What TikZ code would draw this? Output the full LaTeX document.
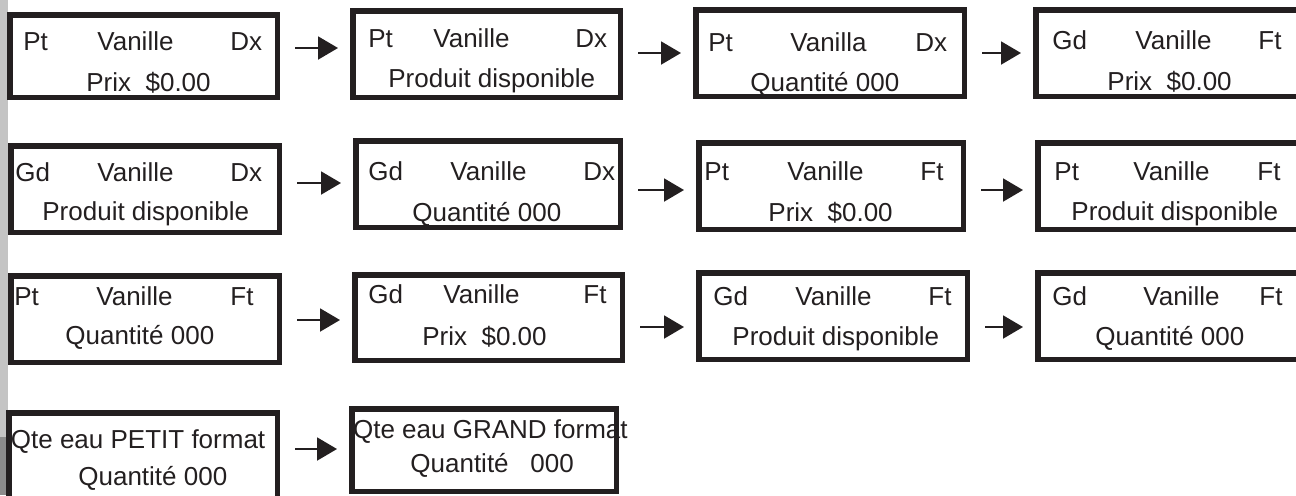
\documentclass[tikz,border=0pt]{standalone}
\usepackage{fontspec}
\setmainfont{Liberation Sans}
\usetikzlibrary{arrows.meta}

\definecolor{ink}{RGB}{35,31,32}
\definecolor{edgelight}{RGB}{196,196,196}
\definecolor{edgedark}{RGB}{140,140,140}

\begin{document}
\begin{tikzpicture}[x=0.5pt,y=-0.5pt,
  screen/.style={draw=ink,line width=2.75pt,rectangle,inner sep=0pt},
  lbl/.style={anchor=base west,inner sep=0pt,text=ink,font=\fontsize{13pt}{15pt}\selectfont},
  flow/.style={-{Triangle[length=10pt,width=11.5pt]},draw=ink,line width=1pt,shorten <=7.5pt,shorten >=6pt}]
\useasboundingbox (0,0) rectangle (1296,495);
\clip (0,0) rectangle (1296,495);
\fill[edgelight] (0,0) rectangle (8,437);
\fill[edgedark] (0,437) rectangle (6,495);

% display screens, row by row
\node[screen,minimum width=133.75pt,minimum height=41.25pt] (s1) at (143.5,56) {};
\node[screen,minimum width=133.75pt,minimum height=43.25pt] (s2) at (486.5,54) {};
\node[screen,minimum width=134.25pt,minimum height=43.25pt] (s3) at (830,53) {};
\node[screen,minimum width=140.75pt,minimum height=43.25pt] (s4) at (1176.5,53) {};
\node[screen,minimum width=134.25pt,minimum height=43.25pt] (s5) at (145,189) {};
\node[screen,minimum width=132.25pt,minimum height=43.25pt] (s6) at (488,184) {};
\node[screen,minimum width=132.25pt,minimum height=43.25pt] (s7) at (831,186) {};
\node[screen,minimum width=139.75pt,minimum height=43.25pt] (s8) at (1177.5,186) {};
\node[screen,minimum width=134.25pt,minimum height=43.25pt] (s9) at (145,319) {};
\node[screen,minimum width=133.75pt,minimum height=42.75pt] (s10) at (488.5,317.5) {};
\node[screen,minimum width=134.25pt,minimum height=43.25pt] (s11) at (833,316) {};
\node[screen,minimum width=139.75pt,minimum height=43.25pt] (s12) at (1177.5,316) {};
\node[screen,minimum width=134.25pt,minimum height=52.25pt] (s13) at (143,465) {};
\node[screen,minimum width=132.25pt,minimum height=41.25pt] (s14) at (484,450) {};

% screen texts
\node[lbl] (s1l) at (23,50) {Pt};
\node[lbl] (s1m) at (97,50) {Vanille};
\node[lbl] (s1r) at (230,50) {Dx};
\node[lbl] (s1b) at (86,91) {Prix~~\$0.00};

\node[lbl] (s2l) at (368,47) {Pt};
\node[lbl] (s2m) at (433,47) {Vanille};
\node[lbl] (s2r) at (575,47) {Dx};
\node[lbl] (s2b) at (388,87) {Produit disponible};

\node[lbl] (s3l) at (708,51) {Pt};
\node[lbl] (s3m) at (790,51) {Vanilla};
\node[lbl] (s3r) at (915,51) {Dx};
\node[lbl] (s3b) at (750,91) {Quantité 000};

\node[lbl] (s4l) at (1052,49) {Gd};
\node[lbl] (s4m) at (1135,49) {Vanille};
\node[lbl] (s4r) at (1258,49) {Ft};
\node[lbl] (s4b) at (1107,90) {Prix~~\$0.00};

\node[lbl] (s5l) at (15,181) {Gd};
\node[lbl] (s5m) at (97,181) {Vanille};
\node[lbl] (s5r) at (230,181) {Dx};
\node[lbl] (s5b) at (42,220) {Produit disponible};

\node[lbl] (s6l) at (368,180) {Gd};
\node[lbl] (s6m) at (450,180) {Vanille};
\node[lbl] (s6r) at (583,180) {Dx};
\node[lbl] (s6b) at (412,221) {Quantité 000};

\node[lbl] (s7l) at (704,180) {Pt};
\node[lbl] (s7m) at (787,180) {Vanille};
\node[lbl] (s7r) at (920,180) {Ft};
\node[lbl] (s7b) at (768,221) {Prix~~\$0.00};

\node[lbl] (s8l) at (1054,180) {Pt};
\node[lbl] (s8m) at (1133,180) {Vanille};
\node[lbl] (s8r) at (1257,180) {Ft};
\node[lbl] (s8b) at (1071,220) {Produit disponible};

\node[lbl] (s9l) at (14,305) {Pt};
\node[lbl] (s9m) at (96,305) {Vanille};
\node[lbl] (s9r) at (230,305) {Ft};
\node[lbl] (s9b) at (65,344) {Quantité 000};

\node[lbl] (s10l) at (368,303) {Gd};
\node[lbl] (s10m) at (443,303) {Vanille};
\node[lbl] (s10r) at (583,303) {Ft};
\node[lbl] (s10b) at (422,345) {Prix~~\$0.00};

\node[lbl] (s11l) at (713,305) {Gd};
\node[lbl] (s11m) at (795,305) {Vanille};
\node[lbl] (s11r) at (928,305) {Ft};
\node[lbl] (s11b) at (732,345) {Produit disponible};

\node[lbl] (s12l) at (1052,305) {Gd};
\node[lbl] (s12m) at (1143,305) {Vanille};
\node[lbl] (s12r) at (1259,305) {Ft};
\node[lbl] (s12b) at (1095,345) {Quantité 000};

\node[lbl] (s13t) at (10.5,448) {Qte eau PETIT format};
\node[lbl] (s13b) at (78,485) {Quantité 000};
\node[lbl] (s14t) at (352.7,438) {Qte eau GRAND format};
\node[lbl] (s14b) at (410,472) {Quantité~~~000};

% transitions
\draw[flow] (s1.east |- 0,48) -- (s2.west |- 0,48);
\draw[flow] (s2.east |- 0,53) -- (s3.west |- 0,53);
\draw[flow] (s3.east |- 0,53) -- (s4.west |- 0,53);
\draw[flow] (s5.east |- 0,183) -- (s6.west |- 0,183);
\draw[flow] (s6.east |- 0,190) -- (s7.west |- 0,190);
\draw[flow] (s7.east |- 0,190) -- (s8.west |- 0,190);
\draw[flow] (s9.east |- 0,320) -- (s10.west |- 0,320);
\draw[flow] (s10.east |- 0,327) -- (s11.west |- 0,327);
\draw[flow] (s11.east |- 0,327) -- (s12.west |- 0,327);
\draw[flow] (s13.east |- 0,449) -- (s14.west |- 0,449);
\end{tikzpicture}
\end{document}
